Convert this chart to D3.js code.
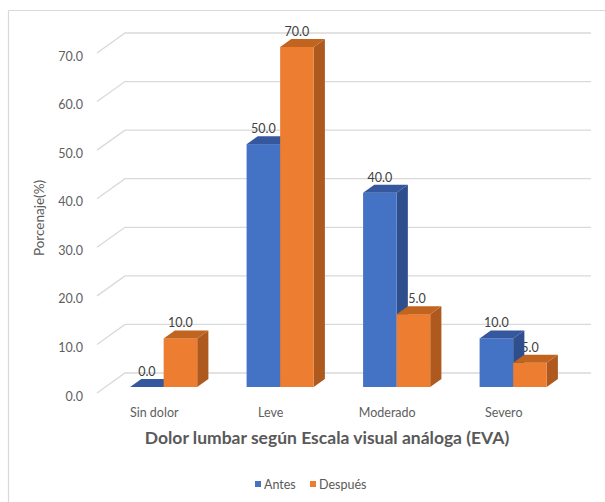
<!DOCTYPE html>
<html>
<head>
<meta charset="utf-8">
<script src="https://cdn.jsdelivr.net/npm/d3@7"></script>
<style>
  html, body { margin: 0; padding: 0; background: #ffffff; }
  svg { display: block; }
  text { font-family: Lato, "Open Sans", sans-serif; }
</style>
</head>
<body>
<svg id="chart" width="605" height="502"></svg>
<script>
// Chart data
const categories = ["Sin dolor", "Leve", "Moderado", "Severo"];
const antes = [0.0, 50.0, 40.0, 10.0];
const despues = [10.0, 70.0, 15.0, 5.0];
const yTicks = [0, 10, 20, 30, 40, 50, 60, 70];
const seriesNames = ["Antes", "Después"];

const colors = {
  Antes:   { front: "#4472C4", side: "#2E4E8E", top: "#34579E" },
  "Después": { front: "#ED7D31", side: "#AE5A1F", top: "#C0641F" }
};

const svg = d3.select("#chart");

// Oblique projection: depth 0 = front wall plane, depth 1 = back wall plane
const depthDX = 28, depthDY = -20;
const proj = (z) => [depthDX * z, depthDY * z];

const x = d3.scaleBand().domain(categories).range([97, 563]).padding(0);
const y = d3.scaleLinear().domain([0, 70]).range([393, 53]);

// Chart frame
svg.append("line").attr("x1", 8.5).attr("y1", 10.5).attr("x2", 605).attr("y2", 10.5)
  .attr("stroke", "#d9d9d9").attr("stroke-width", 1.2);
svg.append("line").attr("x1", 8.5).attr("y1", 10.5).attr("x2", 8.5).attr("y2", 502)
  .attr("stroke", "#d9d9d9").attr("stroke-width", 1.2);

// Gridlines: diagonal on the side wall, then along the back wall
const [bx, by] = proj(1);
const grid = svg.append("g");
yTicks.forEach(t => {
  const y0 = y(t);
  grid.append("path")
    .attr("d", `M${x.range()[0]},${y0} L${x.range()[0] + bx},${y0 + by} L${x.range()[1] + bx},${y0 + by}`)
    .attr("fill", "none").attr("stroke", "#d9d9d9").attr("stroke-width", 1.3);
});

// Y tick labels
const fmt = d3.format(".1f");
svg.append("g").selectAll("text").data(yTicks).join("text")
  .attr("x", 83).attr("y", d => y(d) + 7.5)
  .attr("text-anchor", "end")
  .attr("font-size", 12.5).attr("fill", "#606060")
  .text(d => fmt(d));

// Y axis title
svg.append("text")
  .attr("transform", "translate(44,218) rotate(-90)")
  .attr("text-anchor", "middle")
  .attr("font-size", 13.5).attr("fill", "#595959")
  .text("Porcenaje(%)");

// Category labels
svg.append("g").selectAll("text").data(categories).join("text")
  .attr("x", d => x(d) + x.bandwidth() / 2 - 1)
  .attr("y", 417)
  .attr("text-anchor", "middle")
  .attr("font-size", 12.5).attr("fill", "#606060")
  .text(d => d);

// X axis title
svg.append("text")
  .attr("x", 327).attr("y", 444)
  .attr("text-anchor", "middle")
  .attr("font-size", 17.5).attr("font-weight", "bold").attr("fill", "#595959")
  .text("Dolor lumbar según Escala visual análoga (EVA)");

// Bars geometry
const barW = x.bandwidth() * 0.288;
const zFront = 0.3, zBack = 0.7;
const [fx, fy] = proj(zFront);
const [kx, ky] = proj(zBack);
const sdx = kx - fx, sdy = ky - fy;

const bars = [];
categories.forEach((c, i) => {
  const center = x(c) + x.bandwidth() / 2 + fx;
  bars.push({ cat: c, series: "Antes", value: antes[i], x0: center - barW, x1: center });
  bars.push({ cat: c, series: "Después", value: despues[i], x0: center, x1: center + barW });
});

// Value labels (drawn beneath the bars, which occlude them)
svg.append("g").selectAll("text").data(bars).join("text")
  .attr("x", d => (d.x0 + d.x1) / 2)
  .attr("y", d => y(d.value) + fy - 11)
  .attr("text-anchor", "middle")
  .attr("font-size", 12.5).attr("fill", "#404040")
  .text(d => fmt(d.value));

// 3D bars drawn left to right
const gBars = svg.append("g");
bars.forEach(d => {
  const c = colors[d.series];
  const yt = y(d.value) + fy;
  const yb = y(0) + fy;
  const g = gBars.append("g");
  if (yb - yt > 0.5) {
    g.append("polygon")
      .attr("points", [[d.x1, yt], [d.x1 + sdx, yt + sdy], [d.x1 + sdx, yb + sdy], [d.x1, yb]].join(" "))
      .attr("fill", c.side);
    g.append("rect")
      .attr("x", d.x0).attr("y", yt).attr("width", d.x1 - d.x0).attr("height", yb - yt)
      .attr("fill", c.front);
  }
  g.append("polygon")
    .attr("points", [[d.x0, yt], [d.x1, yt], [d.x1 + sdx, yt + sdy], [d.x0 + sdx, yt + sdy]].join(" "))
    .attr("fill", c.top);
});

// Legend
const legend = svg.append("g");
const legendItems = [{ name: seriesNames[0], x: 255 }, { name: seriesNames[1], x: 310 }];
legendItems.forEach(it => {
  legend.append("rect").attr("x", it.x).attr("y", 481).attr("width", 6).attr("height", 6)
    .attr("fill", colors[it.name].front);
  legend.append("text").attr("x", it.x + 9).attr("y", 488.5)
    .attr("font-size", 12.5).attr("fill", "#595959").text(it.name);
});
</script>
</body>
</html>
